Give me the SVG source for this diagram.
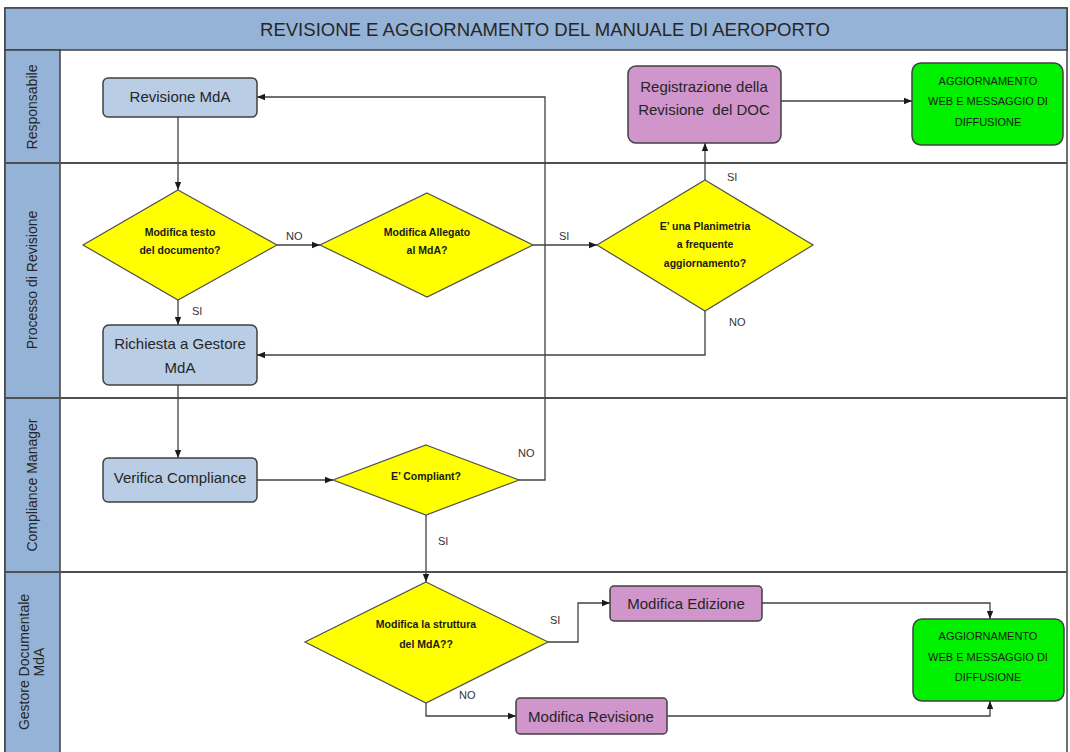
<svg xmlns="http://www.w3.org/2000/svg" width="1070" height="752" viewBox="0 0 1070 752">
<style>
.lane{fill:#95b3d7;stroke:#404040;stroke-width:1.5}
.div{stroke:#505050;stroke-width:2;fill:none}
.blue{fill:#b9cde5;stroke:#404040;stroke-width:1.5}
.purp{fill:#d095cb;stroke:#404040;stroke-width:1.5}
.green{fill:#00f000;stroke:#404040;stroke-width:1.5}
.dia{fill:#ffff00;stroke:#505050;stroke-width:1.2}
.t{font-family:"Liberation Sans",Arial,sans-serif;fill:#262626;text-anchor:middle}
.n{font-size:15px}
.d{font-size:10.5px;font-weight:bold;fill:#1a1a1a}
.g{font-size:11px;fill:#1a1a1a}
.lbl{font-family:"Liberation Sans",Arial,sans-serif;font-size:11px;fill:#333}
.ln{font-family:"Liberation Sans",Arial,sans-serif;font-size:14px;fill:#262626;text-anchor:middle}
.c{stroke:#404040;stroke-width:1.3;fill:none}
.ca{stroke:#404040;stroke-width:1.3;fill:none;marker-end:url(#ah)}
</style>
<defs>
<marker id="ah" viewBox="0 0 10 10" refX="10" refY="5" markerWidth="8" markerHeight="8" markerUnits="userSpaceOnUse" orient="auto">
<path d="M0,1 L10,5 L0,9 z" fill="#1a1a1a"/>
</marker>
</defs>
<rect x="0" y="0" width="1070" height="752" fill="#ffffff"/>
<g id="frame">
<rect x="5" y="8" width="1062" height="750" fill="#ffffff" stroke="#404040" stroke-width="1.5"/>
<rect x="5" y="8" width="1062" height="42" class="lane"/>
<text x="545" y="36" class="t" style="font-size:18px" textLength="570" lengthAdjust="spacingAndGlyphs">REVISIONE E AGGIORNAMENTO DEL MANUALE DI AEROPORTO</text>
<rect x="5" y="50" width="55" height="708" class="lane"/>
<line x1="5" y1="163" x2="1067" y2="163" class="div"/>
<line x1="5" y1="398" x2="1067" y2="398" class="div"/>
<line x1="5" y1="572" x2="1067" y2="572" class="div"/>
</g>
<g id="lane-labels">
<text class="ln" transform="translate(37,107) rotate(-90)">Responsabile</text>
<text class="ln" transform="translate(37,280) rotate(-90)">Processo di Revisione</text>
<text class="ln" transform="translate(37,485) rotate(-90)">Compliance Manager</text>
<text class="ln" transform="translate(29,662) rotate(-90)">Gestore Documentale</text>
<text class="ln" transform="translate(44,662) rotate(-90)">MdA</text>
</g>
<g id="connectors">
<path class="ca" d="M178,117 V190"/>
<path class="ca" d="M277,245 H320"/>
<path class="ca" d="M533,245 H597"/>
<path class="ca" d="M705,180 V143"/>
<path class="ca" d="M781,101 H912"/>
<path class="ca" d="M705,311 V355 H257"/>
<path class="ca" d="M178,300 V325"/>
<path class="ca" d="M178,385 V458"/>
<path class="ca" d="M257,480 H333"/>
<path class="ca" d="M519,480 H545 V97 H257"/>
<path class="ca" d="M426,515 V582"/>
<path class="ca" d="M548,642 H578 V603 H610"/>
<path class="ca" d="M426,703 V716 H516"/>
<path class="ca" d="M762,603 H990 V619"/>
<path class="ca" d="M667,716 H990 V701"/>
<text class="lbl" x="286" y="240">NO</text>
<text class="lbl" x="559" y="240">SI</text>
<text class="lbl" x="727" y="181">SI</text>
<text class="lbl" x="729" y="326">NO</text>
<text class="lbl" x="192" y="315">SI</text>
<text class="lbl" x="518" y="457">NO</text>
<text class="lbl" x="438" y="545">SI</text>
<text class="lbl" x="550" y="624">SI</text>
<text class="lbl" x="459" y="699">NO</text>
</g>
<g id="revisione-mda">
<rect x="103" y="78" width="154" height="39" rx="5" class="blue"/>
<text x="180" y="102" class="t n">Revisione MdA</text>
</g>
<g id="registrazione">
<rect x="628" y="66" width="153" height="77" rx="8" class="purp"/>
<text x="704" y="92" class="t n">Registrazione della</text>
<text x="704" y="115" class="t n" xml:space="preserve">Revisione  del DOC</text>
</g>
<g id="aggiornamento-1">
<rect x="912" y="63" width="151" height="82" rx="9" class="green"/>
<text x="988" y="85" class="t g">AGGIORNAMENTO</text>
<text x="988" y="105" class="t g">WEB E MESSAGGIO DI</text>
<text x="988" y="126" class="t g">DIFFUSIONE</text>
</g>
<g id="modifica-testo">
<polygon points="178,190 277,245 178,300 83,245" class="dia"/>
<text x="180" y="236" class="t d">Modifica testo</text>
<text x="180" y="254" class="t d">del documento?</text>
</g>
<g id="modifica-allegato">
<polygon points="427,193 533,245 427,297 320,245" class="dia"/>
<text x="427" y="236" class="t d">Modifica Allegato</text>
<text x="427" y="254" class="t d">al MdA?</text>
</g>
<g id="planimetria">
<polygon points="705,180 813,245 705,311 597,245" class="dia"/>
<text x="705" y="230" class="t d">E’ una Planimetria</text>
<text x="705" y="248" class="t d">a frequente</text>
<text x="705" y="267" class="t d">aggiornamento?</text>
</g>
<g id="richiesta">
<rect x="103" y="325" width="154" height="60" rx="6" class="blue"/>
<text x="180" y="349" class="t n">Richiesta a Gestore</text>
<text x="180" y="373" class="t n">MdA</text>
</g>
<g id="verifica-compliance">
<rect x="103" y="458" width="154" height="44" rx="5" class="blue"/>
<text x="180" y="483" class="t n">Verifica Compliance</text>
</g>
<g id="compliant">
<polygon points="426,445 519,480 426,515 333,480" class="dia"/>
<text x="426" y="480" class="t d">E’ Compliant?</text>
</g>
<g id="modifica-struttura">
<polygon points="426,582 548,642 426,703 305,642" class="dia"/>
<text x="426" y="628" class="t d">Modifica la struttura</text>
<text x="426" y="648" class="t d">del MdA??</text>
</g>
<g id="modifica-edizione">
<rect x="610" y="586" width="152" height="35" rx="4" class="purp"/>
<text x="686" y="609" class="t n">Modifica Edizione</text>
</g>
<g id="modifica-revisione">
<rect x="516" y="698" width="151" height="36" rx="4" class="purp"/>
<text x="591" y="722" class="t n">Modifica Revisione</text>
</g>
<g id="aggiornamento-2">
<rect x="913" y="619" width="151" height="82" rx="9" class="green"/>
<text x="988" y="640" class="t g">AGGIORNAMENTO</text>
<text x="988" y="661" class="t g">WEB E MESSAGGIO DI</text>
<text x="988" y="681" class="t g">DIFFUSIONE</text>
</g>
</svg>
